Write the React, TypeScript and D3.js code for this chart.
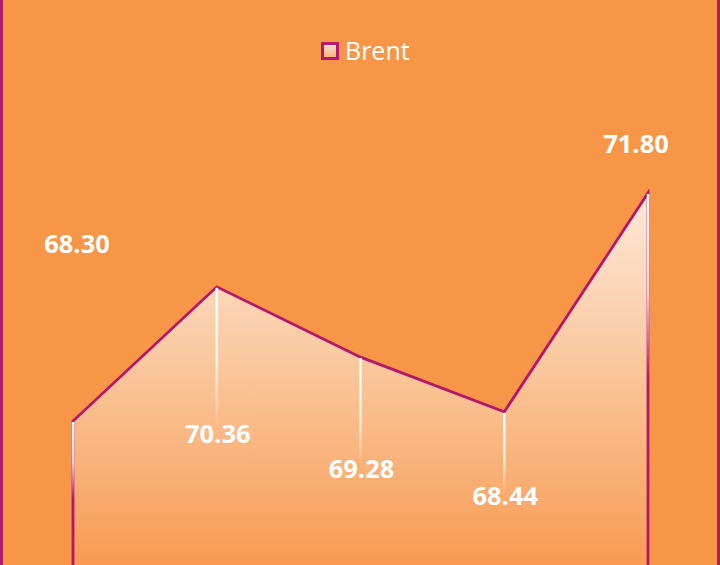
import React from "react";
import * as d3 from "d3";

const categories = ["P1", "P2", "P3", "P4", "P5"];
const brent = [68.3, 70.36, 69.28, 68.44, 71.8];
const seriesName = "Brent";

const W = 720;
const H = 565;
const BG = "#F79646";
const MAGENTA = "#B5176C";

export default function App() {
  const x = d3.scalePoint<string>().domain(categories).range([73, 648]);
  const y = d3.scaleLinear().domain([66, 72]).range([570.8, 180]);
  const baseY = 580;

  const pts = categories.map((c, i) => ({ c, v: brent[i], x: x(c) as number, y: y(brent[i]) }));

  const area = d3
    .area<(typeof pts)[number]>()
    .x((d) => d.x)
    .y0(baseY)
    .y1((d) => d.y);

  const first = pts[0];
  const last = pts[pts.length - 1];
  const outlinePath =
    `M${first.x},${baseY + 5}L` + pts.map((p) => `${p.x},${p.y}`).join("L") + `L${last.x},${baseY + 5}`;

  const labelPos = (i: number) => {
    const p = pts[i];
    if (i === 0) return { x: p.x + 4, y: p.y - 177 };
    if (i === pts.length - 1) return { x: p.x - 12, y: p.y - 49 };
    return { x: p.x + 1, y: (p.y + baseY) / 2 };
  };

  return (
    <div style={{ position: "fixed", left: 0, top: 0, width: W, height: H }}>
      <svg width={W} height={H} style={{ display: "block" }}>
        <defs>
          <linearGradient id="areaGrad" gradientUnits="userSpaceOnUse" x1="0" y1={last.y} x2="0" y2={baseY}>
            <stop offset="0%" stopColor="#FDE8D9" />
            <stop offset="45%" stopColor="#FAC79C" />
            <stop offset="100%" stopColor="#F7984E" />
          </linearGradient>
          <linearGradient id="dropGrad" x1="0" y1="0" x2="0" y2="1">
            <stop offset="0%" stopColor="#FFFFFF" stopOpacity={1} />
            <stop offset="25%" stopColor="#FFFFFF" stopOpacity={0.8} />
            <stop offset="48%" stopColor="#FFFFFF" stopOpacity={0} />
            <stop offset="100%" stopColor="#FFFFFF" stopOpacity={0} />
          </linearGradient>
          <linearGradient id="legendGrad" x1="0" y1="0" x2="0" y2="1">
            <stop offset="0%" stopColor="#FDE3D0" />
            <stop offset="100%" stopColor="#F8AE72" />
          </linearGradient>
        </defs>
        <rect x={0} y={0} width={W} height={H} fill={BG} />
        <path d={area(pts)!} fill="url(#areaGrad)" />
        <path d={outlinePath} fill="none" stroke={MAGENTA} strokeWidth={2.8} strokeLinejoin="miter" />
        {pts.map((p, i) => (
          <rect key={"d" + i} x={p.x - 1.2} y={p.y + 1} width={2.5} height={baseY - p.y} fill="url(#dropGrad)" />
        ))}
        {pts.map((p, i) => {
          const lp = labelPos(i);
          return (
            <text
              key={"l" + i}
              x={lp.x}
              y={lp.y}
              dy="0.36em"
              textAnchor="middle"
              fill="#FFFFFF"
              fontFamily="'Open Sans', sans-serif"
              fontWeight={700}
              fontSize={25.5}
            >
              {p.v.toFixed(2)}
            </text>
          );
        })}
        <g transform="translate(321,42)">
          <rect x={1.5} y={1.5} width={15} height={15} fill="url(#legendGrad)" stroke={MAGENTA} strokeWidth={3} />
          <text x={24} y={9} dy="0.36em" fill="#FFFFFF" fontFamily="'Open Sans', sans-serif" fontSize={25}>
            {seriesName}
          </text>
        </g>
        <rect x={0} y={0} width={3} height={H} fill={MAGENTA} />
        <rect x={W - 3} y={0} width={3} height={H} fill={MAGENTA} />
      </svg>
    </div>
  );
}
